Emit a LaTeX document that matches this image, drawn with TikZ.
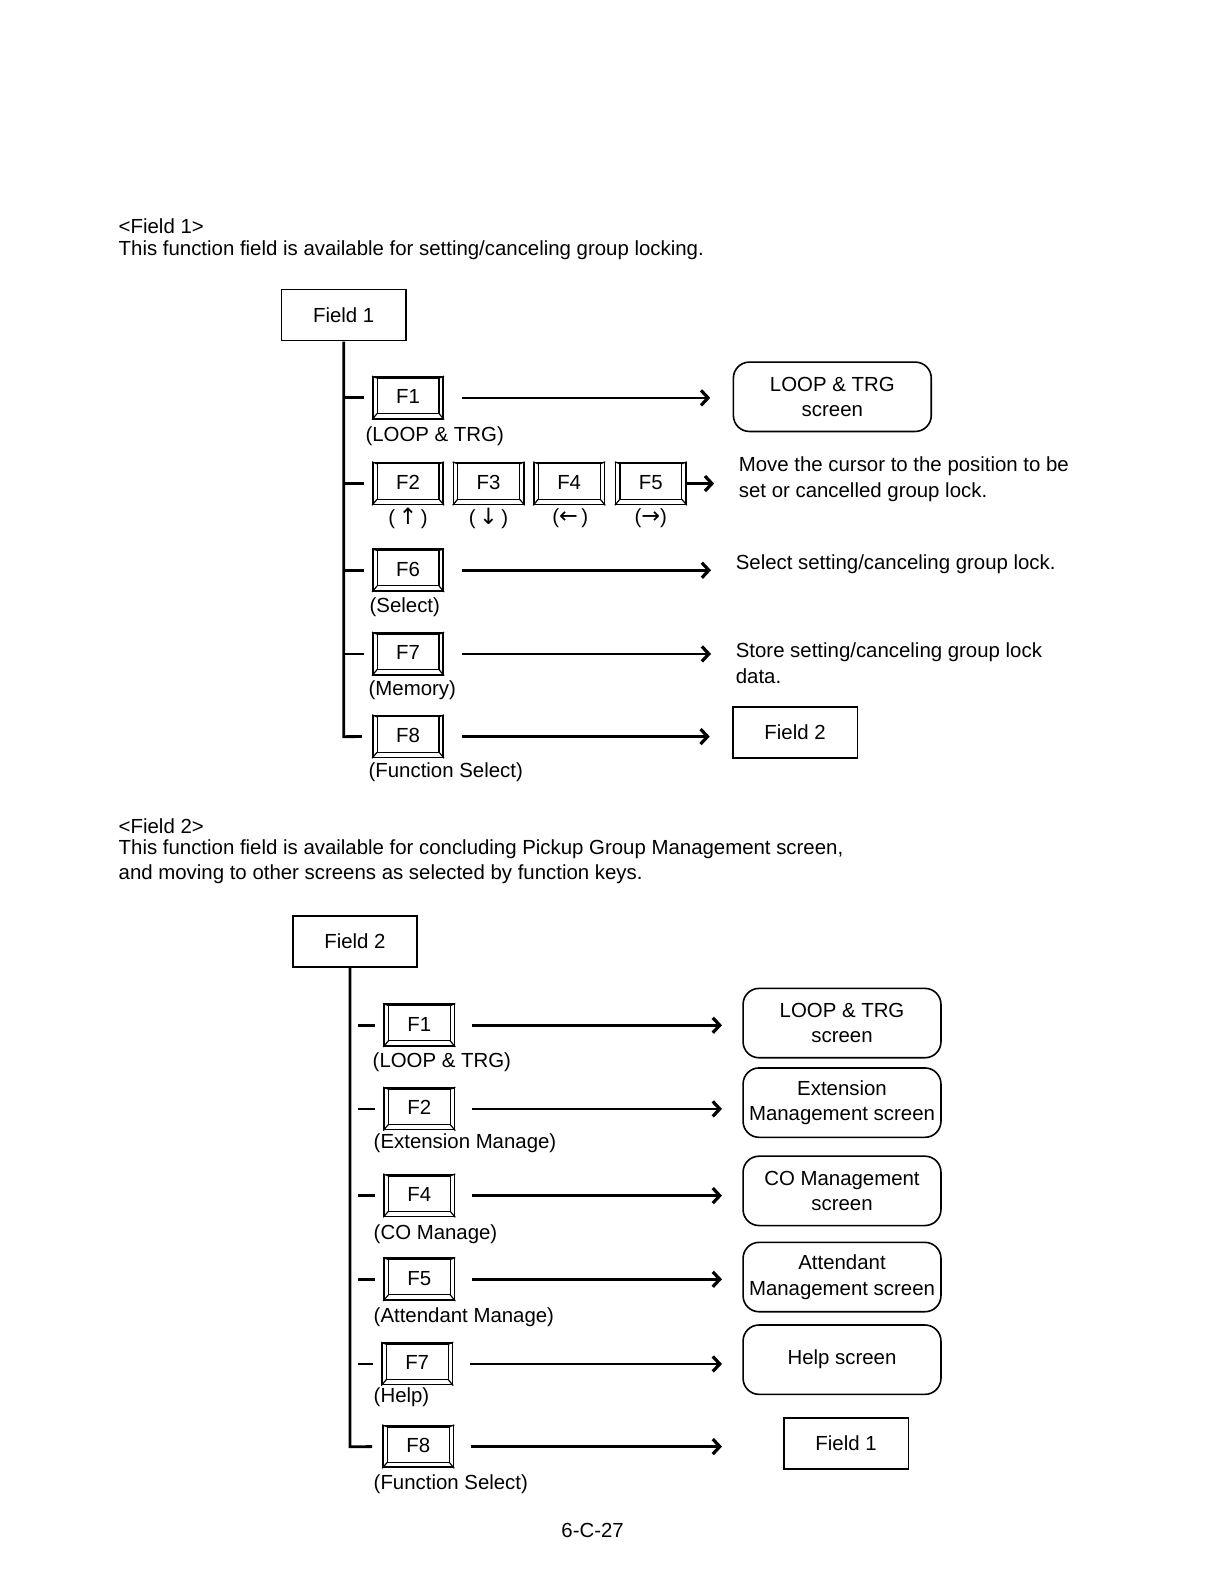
\documentclass[tikz,border=0pt]{standalone}
\usepackage{fontspec}
\setmainfont{Liberation Sans}
\newfontfamily\arrfont{DejaVu Sans}
\usetikzlibrary{arrows.meta}
\tikzset{
  fkey/.style={draw, line width=0.8pt, minimum width=34.5pt, minimum height=20.5pt, inner sep=0pt, font=\fontsize{10}{12}\selectfont},
  keyline/.style={line width=0.6pt},
  fieldbox/.style={draw, line width=0.8pt, minimum width=61pt, minimum height=25pt, inner sep=0pt, font=\fontsize{10}{12}\selectfont},
  scrbox/.style={draw, line width=0.8pt, rounded corners=8pt, minimum width=97pt, minimum height=34pt, inner sep=0pt, align=center, font=\fontsize{10}{12.5}\selectfont},
  txt/.style={anchor=west, inner sep=0pt, align=left, font=\fontsize{10}{12.5}\selectfont},
  head/.style={anchor=west, inner sep=0pt, align=left, font=\fontsize{10}{12.5}\selectfont},
  small/.style={inner sep=0pt, font=\fontsize{10}{12}\selectfont},
  trunk/.style={line width=1.4pt},
  branch/.style={line width=1.4pt},
  arr/.style={line width=1.3pt, -{Straight Barb[length=3.5pt,width=7.5pt,line width=1.6pt]}},
}
\newcommand\ar[1]{{\arrfont\fontsize{11}{12}\selectfont #1}}
\newcommand\fkey[4]{%
  \node[fkey] (#1) at (#2,#3) {\raisebox{1pt}{#4}};
  \draw[keyline] ([xshift=2.5pt,yshift=-1pt]#1.north west) rectangle ([xshift=-2.5pt,yshift=3pt]#1.south east);
  \draw[keyline] (#1.north west) -- ([xshift=2.5pt,yshift=-1pt]#1.north west);
  \draw[keyline] (#1.north east) -- ([xshift=-2.5pt,yshift=-1pt]#1.north east);
  \draw[keyline] (#1.south west) -- ([xshift=2.5pt,yshift=3pt]#1.south west);
  \draw[keyline] (#1.south east) -- ([xshift=-2.5pt,yshift=3pt]#1.south east);
}
\begin{document}
\begin{tikzpicture}[x=0.5pt,y=-0.5pt,scale=1.02,transform shape]
\useasboundingbox[fill=white] (0,0) rectangle (1207.8,1564.7);

% ---------- Section 1 ----------
\node[head] (h1) at (116,222) {<Field 1>};
\node[head] (h1b) at (116,245) {This function field is available for setting/canceling group locking.};

\node[fieldbox] (fa) at (337,309) {Field 1};

\fkey{ka1}{400}{390}{F1}
\fkey{ka2}{400}{474}{F2}
\fkey{ka3}{479}{474}{F3}
\fkey{ka4}{558}{474}{F4}
\fkey{ka5}{638}{474}{F5}
\fkey{ka6}{400}{559}{F6}
\fkey{ka7}{400}{641}{F7}
\fkey{ka8}{400}{722}{F8}

\node[txt] (la1) at (358,428) {(LOOP \& TRG)};
\node[small] (la2) at (400,508) {(\,\ar{↑}\,)};
\node[small] (la3) at (479,508) {(\,\ar{↓}\,)};
\node[small] (la4) at (559,508) {(\ar{←}\,)};
\node[small] (la5) at (638,508) {(\ar{→})};
\node[txt] (la6) at (362,595) {(Select)};
\node[txt] (la7) at (361,677) {(Memory)};
\node[txt] (la8) at (361,757) {(Function Select)};

\node[scrbox] (sa1) at (816,389) {LOOP \& TRG\\screen};
\node[txt] (ta2) at (724,470) {Move the cursor to the position to be\\set or cancelled group lock.};
\node[txt] (ta6) at (721,553) {Select setting/canceling group lock.};
\node[txt] (ta7) at (721,650) {Store setting/canceling group lock\\data.};
\node[fieldbox] (fb) at (779.5,718) {Field 2};

\coordinate (ja) at (fa.south |- ka8);
\draw[trunk] (fa.south) -- (ja) -- ([xshift=-5pt]ka8.west);
\foreach \k in {ka1,ka2,ka6,ka7}{
  \draw[branch] (fa.south |- \k) -- ([xshift=-4pt]\k.west);
}
\draw[arr] ([xshift=9pt]ka1.east) -- ([xshift=-11pt]sa1.west |- ka1);
\draw[arr] (ka5.east) -- ([xshift=-12pt]ta2.west |- ka5);
\draw[arr] ([xshift=9pt]ka6.east) -- ([xshift=-12pt]ta6.west |- ka6);
\draw[arr] ([xshift=9pt]ka7.east) -- ([xshift=-12pt]ta7.west |- ka7);
\draw[arr] ([xshift=9pt]ka8.east) -- ([xshift=-11pt]fb.west |- ka8);

% ---------- Section 2 ----------
\node[head] (h2) at (116,810) {<Field 2>};
\node[head] (h2b) at (116,845) {This function field is available for concluding Pickup Group Management screen,\\and moving to other screens as selected by function keys.};

\node[fieldbox] (fc) at (348,923) {Field 2};

\fkey{kb1}{411}{1005}{F1}
\fkey{kb2}{411}{1087}{F2}
\fkey{kb4}{411}{1172}{F4}
\fkey{kb5}{411}{1254}{F5}
\fkey{kb7}{409}{1337}{F7}
\fkey{kb8}{410}{1418}{F8}

\node[txt] (lb1) at (365,1041) {(LOOP \& TRG)};
\node[txt] (lb2) at (366,1121) {(Extension Manage)};
\node[txt] (lb4) at (366,1210) {(CO Manage)};
\node[txt] (lb5) at (366,1291) {(Attendant Manage)};
\node[txt] (lb7) at (366,1370) {(Help)};
\node[txt] (lb8) at (366,1455) {(Function Select)};

\node[scrbox] (sb1) at (825.5,1003) {LOOP \& TRG\\screen};
\node[scrbox] (sb2) at (825.5,1081) {Extension\\Management screen};
\node[scrbox] (sb4) at (825.5,1167.5) {CO Management\\screen};
\node[scrbox] (sb5) at (825.5,1252) {Attendant\\Management screen};
\node[scrbox] (sb7) at (825.5,1333) {Help screen};
\node[fieldbox] (fd) at (829.5,1415) {Field 1};

\coordinate (tb) at (343,948);
\coordinate (jb) at (tb |- kb8);
\draw[trunk] (tb) -- (jb) -- ([xshift=-5pt]kb8.west);
\foreach \k in {kb1,kb2,kb4,kb5,kb7}{
  \draw[branch] ([xshift=4pt]tb |- \k) -- ([xshift=-4pt]\k.west);
}
\draw[arr] ([xshift=8pt]kb1.east) -- ([xshift=-10pt]sb1.west |- kb1);
\draw[arr] ([xshift=8pt]kb2.east) -- ([xshift=-10pt]sb2.west |- kb2);
\draw[arr] ([xshift=8pt]kb4.east) -- ([xshift=-10pt]sb4.west |- kb4);
\draw[arr] ([xshift=8pt]kb5.east) -- ([xshift=-10pt]sb5.west |- kb5);
\draw[arr] ([xshift=8pt]kb7.east) -- ([xshift=-10pt]sb7.west |- kb7);
\draw[arr] ([xshift=8pt]kb8.east) -- ([xshift=-30pt]fd.west |- kb8);

\node[small] (pg) at (581,1500) {6-C-27};
\end{tikzpicture}
\end{document}
